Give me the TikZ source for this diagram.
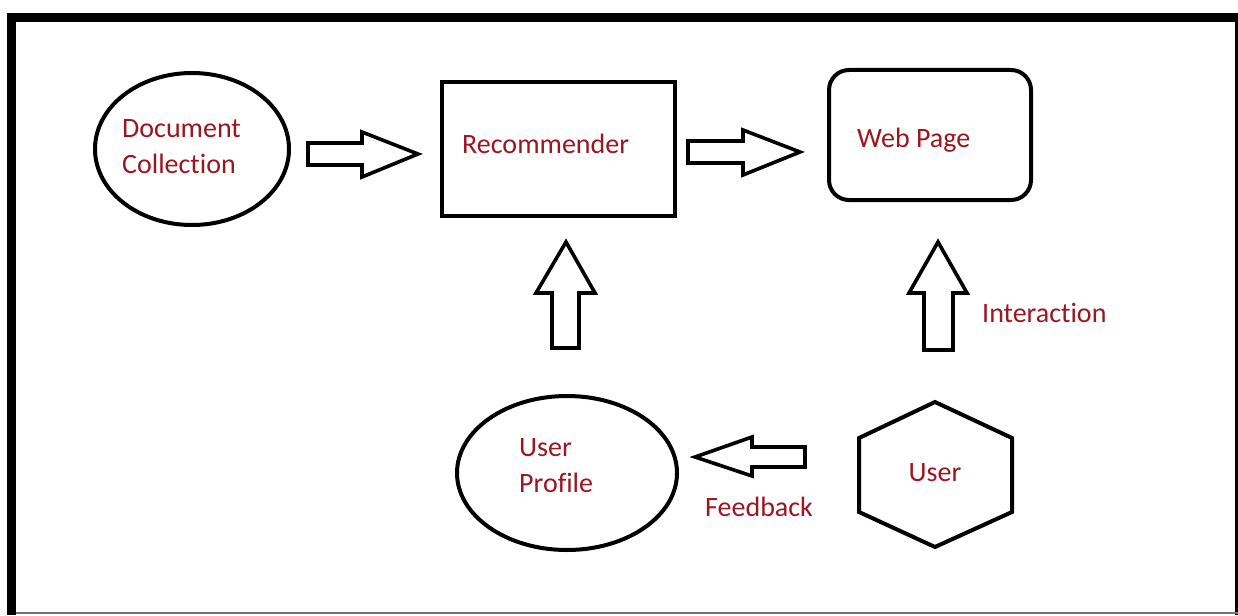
\documentclass[tikz,border=0pt]{standalone}
\usepackage{fontspec}
\setmainfont{Carlito}[Ligatures={NoCommon}]
\definecolor{txtred}{RGB}{155,22,32}
\begin{document}
\begin{tikzpicture}[x=1pt,y=-1pt,
  shapeline/.style={draw=black,line width=4pt},
  blockarrow/.style={draw=black,line width=3.6pt,line join=miter,fill=white},
  lbl/.style={text=txtred,font=\fontsize{28}{33}\selectfont,inner sep=0pt,anchor=base west}]
\useasboundingbox (0,0) rectangle (1238,615);
\fill[white] (0,0) rectangle (1238,615);
% frame
\fill[black] (7,13) rectangle (1238,22);
\fill[black] (7,13) rectangle (16,615);
\fill[black] (1234.5,13) rectangle (1238,615);
\fill[black!55] (16,612) rectangle (1238,614);
% shapes
\draw[shapeline] (192,149) ellipse [x radius=97, y radius=76];
\coordinate (doc) at (192,149);
\draw[shapeline] (442,82) rectangle (675,216);
\coordinate (rec) at (558,149);
\draw[shapeline,rounded corners=20pt] (829,70) rectangle (1031,200);
\coordinate (web) at (930,135);
\draw[shapeline] (567,473) ellipse [x radius=110, y radius=77];
\coordinate (prof) at (567,473);
\draw[shapeline,line join=miter] (935,402) -- (1012,438) -- (1012,512) -- (935,547) -- (859,512) -- (859,438) -- cycle;
\coordinate (user) at (935,474);
% block arrows
\draw[blockarrow] (308,143) -- (362,143) -- (362,132) -- (418,154) -- (362,177) -- (362,165) -- (308,165) -- cycle;
\draw[blockarrow] (688,141) -- (743,141) -- (743,130) -- (800,152) -- (743,175) -- (743,163) -- (688,163) -- cycle;
\draw[blockarrow] (552,348) -- (552,293) -- (536,293) -- (566,242) -- (595,293) -- (579,293) -- (579,348) -- cycle;
\draw[blockarrow] (924,350) -- (924,293) -- (909,293) -- (938,242) -- (967,293) -- (953,293) -- (953,350) -- cycle;
\draw[blockarrow] (805,447) -- (752,447) -- (752,437) -- (695,457) -- (752,476) -- (752,467) -- (805,467) -- cycle;
% labels
\node[lbl] (tdoc1) at (122,137) {Document};
\node[lbl] (tdoc2) at (122,173) {Collection};
\node[lbl] (trec) at (462,153) {Recommender};
\node[lbl] (tweb) at (857,147) {Web Page};
\node[lbl] (tint) at (982,322) {Interaction};
\node[lbl] (tprof1) at (519,456) {User};
\node[lbl] (tprof2) at (519,492) {Profile};
\node[lbl,anchor=base] (tuser) at (935,481) {User};
\node[lbl] (tfb) at (705,516) {Feedback};
\end{tikzpicture}
\end{document}
